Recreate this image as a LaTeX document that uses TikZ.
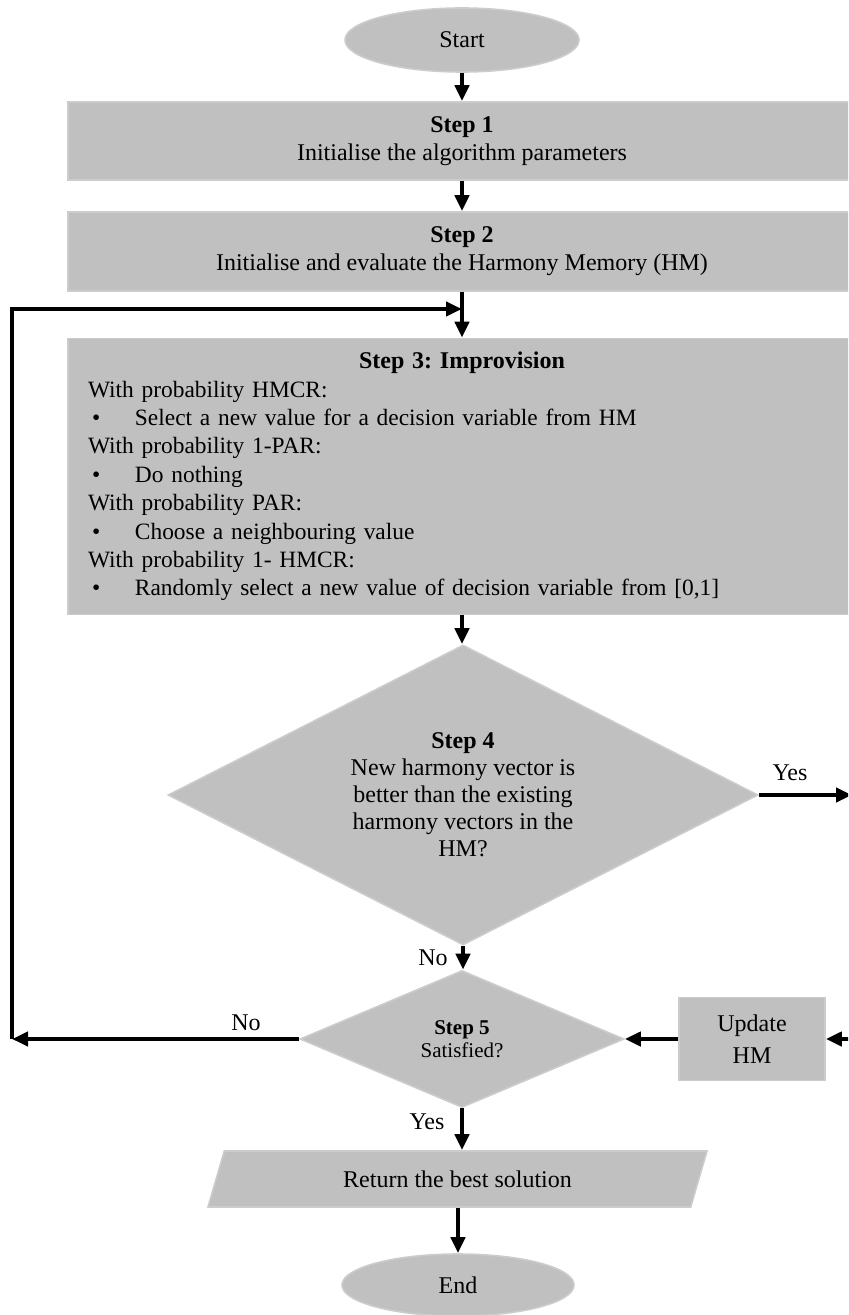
\documentclass[tikz,border=0pt]{standalone}
\usepackage{fontspec}
\setmainfont{Liberation Serif}
\usetikzlibrary{shapes.geometric,arrows.meta}
\definecolor{boxgray}{RGB}{192,192,192}
\definecolor{boxedge}{RGB}{204,204,204}
\frenchspacing
\begin{document}
\begin{tikzpicture}[x=0.5pt,y=-0.5pt,
  every node/.style={font=\fontsize{12}{14}\selectfont},
  shapebox/.style={fill=boxgray, draw=boxedge, line width=0.8pt, inner sep=0pt},
  rectbox/.style={shapebox, rectangle, minimum width=394pt, align=center},
  arr/.style={line width=2pt, -{Triangle[length=8pt,width=7pt]}}]
\useasboundingbox (0,0) rectangle (848,1315);
\clip (0,0) rectangle (848,1315);

\node[shapebox, ellipse, minimum width=117pt, minimum height=32pt] (start) at (462,40) {Start};
\node[rectbox, minimum height=39pt] (s1) at (462,141) {\textbf{Step 1}\\Initialise the algorithm parameters};
\node[rectbox, minimum height=39.5pt] (s2) at (462,251.5) {\textbf{Step 2}\\Initialise and evaluate the Harmony Memory (HM)};
\node[rectbox, minimum height=138pt, text width=374pt, align=left,
  font=\fontsize{11.7}{14.2}\selectfont] (s3) at (462,476.5) {%
\makebox[\linewidth][c]{\fontsize{12}{14.2}\selectfont\textbf{Step 3: Improvision}}\\
With probability HMCR:\\
\hspace{2pt}\makebox[21.5pt][l]{\textbullet}Select a new value for a decision variable from HM\\
With probability 1-PAR:\\
\hspace{2pt}\makebox[21.5pt][l]{\textbullet}Do nothing\\
With probability PAR:\\
\hspace{2pt}\makebox[21.5pt][l]{\textbullet}Choose a neighbouring value\\
With probability 1- HMCR:\\
\hspace{2pt}\makebox[21.5pt][l]{\textbullet}Randomly select a new value of decision variable from [0,1]};
\node[shapebox, diamond, aspect=1.97, minimum width=295pt, minimum height=150pt, align=center,
  font=\fontsize{12}{13.5}\selectfont] (s4) at (463,795)
  {\textbf{Step 4}\\New harmony vector is\\better than the existing\\harmony vectors in the\\HM?};
\node[shapebox, diamond, aspect=2.38, minimum width=162pt, minimum height=68.5pt, align=center,
  font=\fontsize{10.5}{11.5}\selectfont] (s5) at (462,1039) {\textbf{Step 5}\\Satisfied?};
\node[shapebox, rectangle, minimum width=73pt, minimum height=41.5pt, align=center,
  font=\fontsize{12}{16}\selectfont] (upd) at (752,1039) {Update\\HM};
\node[shapebox, trapezium, trapezium left angle=46, trapezium right angle=134,
  trapezium stretches body, minimum width=249.5pt, minimum height=28pt] (ret) at (457.5,1179)
  {Return the best solution};
\node[shapebox, ellipse, minimum width=116pt, minimum height=31pt] (endn) at (458,1285) {End};

\coordinate (join) at (462,309);
\coordinate (loopc) at (12,1039);
\coordinate (yesend) at (852,795);
\coordinate (updin) at (860,1039);

\draw[arr] (start.south) -- (start.south |- s1.north);
\draw[arr] (s1) -- (s2);
\draw[arr] (s2) -- (s3);
\draw[arr] (s3.south) -- (s3.south |- s4.north);
\draw[arr] (s4.east) -- (yesend);
\draw[arr] (s4.south) -- (s4.south |- s5.north);
\draw[arr] (s5.west) -- (loopc);
\draw[arr] (loopc) |- (join);
\draw[arr] (updin) -- (upd.east);
\draw[arr] (upd.west) -- (s5.east);
\draw[arr] (s5.south) -- (s5.south |- ret.north);
\draw[arr] (ret.south -| endn.north) -- (endn.north);

\node (yes4) at (790,773) {Yes};
\node (no4) at (433,958) {No};
\node (no5) at (246,1023) {No};
\node (yes5) at (427,1122) {Yes};
\end{tikzpicture}
\end{document}
